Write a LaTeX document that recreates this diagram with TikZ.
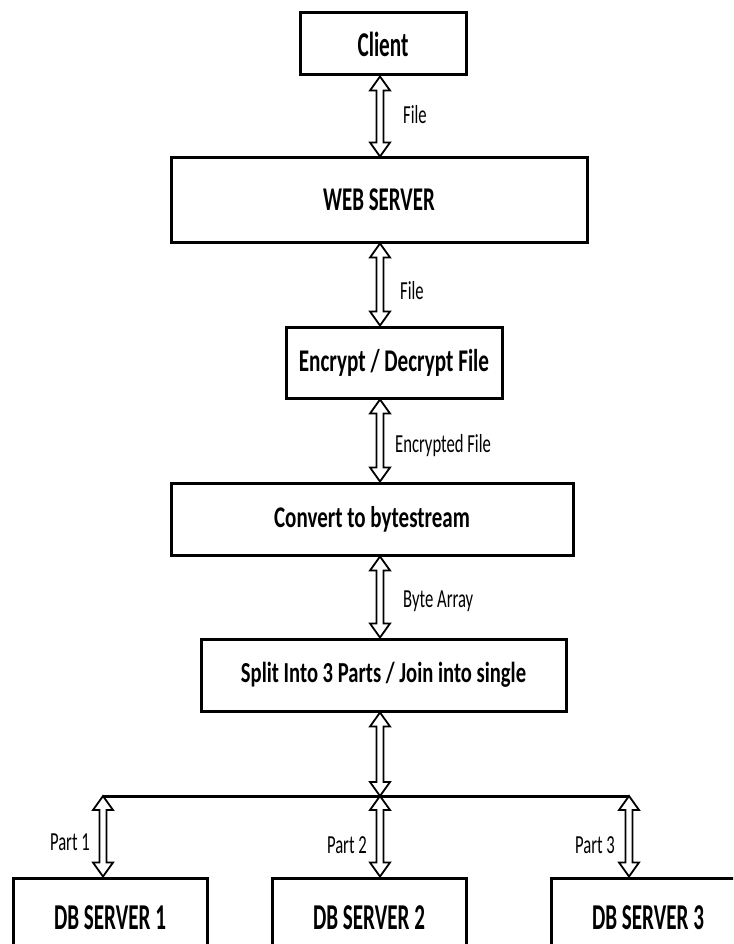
\documentclass[tikz,border=0pt]{standalone}
\usepackage{fontspec}
\setmainfont{Carlito}[FakeStretch=0.64]
\usetikzlibrary{calc}

% bold box text: size, horizontal squeeze
\newcommand{\boxfont}[2]{\fontspec[FakeStretch=#2]{Carlito}\fontsize{#1}{#1}\selectfont\bfseries}

\tikzset{
  box/.style={draw, line width=3pt, inner sep=0pt},
  tag/.style={inner sep=0pt, font=\fontsize{26}{30}\selectfont},
  pipe/.style={draw, line width=1.8pt, fill=white},
  bus/.style={line width=3pt}
}

% hollow two-headed arrow between two points on one vertical
\newcommand{\twoway}[2]{%
  \path[pipe] let \p1=#1, \p2=#2 in
    (\x1,\y1) -- (\x1+10pt,\y1-14pt) -- (\x1+3.5pt,\y1-14pt)
    -- (\x1+3.5pt,\y2+14pt) -- (\x1+10pt,\y2+14pt) -- (\x1,\y2)
    -- (\x1-10pt,\y2+14pt) -- (\x1-3.5pt,\y2+14pt)
    -- (\x1-3.5pt,\y1-14pt) -- (\x1-10pt,\y1-14pt) -- cycle;}

\begin{document}
\begin{tikzpicture}[x=1pt,y=-1pt]
\useasboundingbox (0,0) rectangle (733,944);
\clip (0,0) rectangle (733,944);

% Boxes
\node[box, minimum width=166pt, minimum height=62pt, font=\boxfont{34.8}{0.61}] (client) at (383,44) {Client};
\node[box, minimum width=416pt, minimum height=84pt, font=\boxfont{33.2}{0.63}] (web) at (379,200) {WEB SERVER};
\node[box, minimum width=216pt, minimum height=71pt, font=\boxfont{31.6}{0.67}] (crypt) at (394,362.5) {Encrypt / Decrypt File};
\node[box, minimum width=402pt, minimum height=72pt, font=\boxfont{30}{0.70}] (bytes) at (372,519) {Convert to bytestream};
\node[box, minimum width=365pt, minimum height=72pt, font=\boxfont{29}{0.71}] (split) at (383.5,675) {Split Into 3 Parts / Join into single};

% DB servers
\node[box, minimum width=194pt, minimum height=80pt, font=\boxfont{36.4}{0.58}] (db1) at (110,918) {DB SERVER 1};
\node[box, minimum width=194pt, minimum height=80pt, font=\boxfont{36.4}{0.58}] (db2) at (369,918) {DB SERVER 2};
\node[box, minimum width=194pt, minimum height=80pt, font=\boxfont{36.4}{0.58}] (db3) at (648,918) {DB SERVER 3};

% Bus
\coordinate (spine) at (380,0);
\coordinate (busL) at (103,796);
\coordinate (busR) at (629,796);
\draw[bus] (busL) -- (busR);

% Arrows
\twoway{(client.south -| spine)}{(web.north -| spine)}
\twoway{(web.south -| spine)}{(crypt.north -| spine)}
\twoway{(crypt.south -| spine)}{(bytes.north -| spine)}
\twoway{(bytes.south -| spine)}{(split.north -| spine)}
\twoway{(split.south -| spine)}{(spine |- busL)}
\twoway{(busL)}{(db1.north -| busL)}
\twoway{(spine |- busL)}{(db2.north -| spine)}
\twoway{(busR)}{(db3.north -| busR)}

% Labels
\node[tag, anchor=base west] (file1) at (403,124) {File};
\node[tag, anchor=base west] (file2) at (400,299) {File};
\node[tag, anchor=base west] (encfile) at (395,452) {Encrypted File};
\node[tag, anchor=base west] (bytearr) at (403,607) {Byte Array};
\node[tag, anchor=base east] (part1) at (90,850) {Part 1};
\node[tag, anchor=base east] (part2) at (367,853) {Part 2};
\node[tag, anchor=base east] (part3) at (615,853) {Part 3};

\end{tikzpicture}
\end{document}
